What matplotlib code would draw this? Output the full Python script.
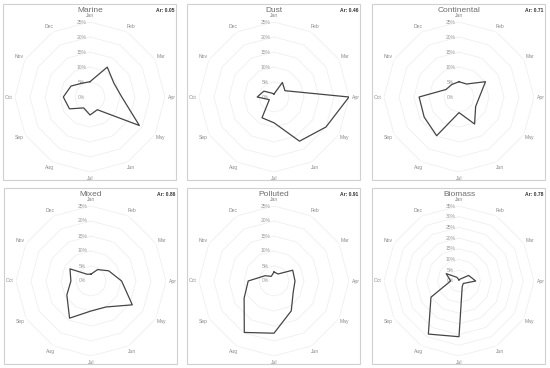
import numpy as np
import matplotlib.pyplot as plt
from matplotlib.patches import Rectangle

plt.rcParams['font.family'] = ['Liberation Sans', 'DejaVu Sans']

months = ['Jan', 'Feb', 'Mar', 'Apr', 'May', 'Jun', 'Jul', 'Aug', 'Sep', 'Oct', 'Nov', 'Dec']
titles = ['Marine', 'Dust', 'Continental', 'Mixed', 'Polluted', 'Biomass']
ar_vals = ['0.05', '0.46', '0.71', '0.86', '0.91', '0.78']

marine = [5.1, 11.5, 9.2, 10.6, 19.0, 4.9, 6.0, 4.2, 7.9, 8.9, 7.3, 5.3]
dust = [1.0, 5.6, 4.2, 25.0, 20.0, 17.0, 8.6, 8.0, 1.8, 5.6, 3.9, 1.5]
continental = [5.1, 5.0, 10.2, 6.8, 6.4, 10.4, 5.2, 14.9, 13.4, 13.3, 5.0, 4.8]
mixed = [2.3, 4.4, 6.8, 10.2, 15.9, 10.0, 10.0, 14.3, 9.3, 6.7, 8.1, 2.6]
polluted = [3.0, 2.7, 7.2, 7.0, 7.4, 11.5, 17.4, 19.8, 11.5, 8.6, 3.5, 1.8]
biomass = [0.5, 1.0, 5.2, 7.8, 2.3, 3.0, 26.0, 28.6, 15.1, 3.9, 6.9, 2.0]

series = [marine, dust, continental, mixed, polluted, biomass]
rmaxes = [25, 25, 25, 25, 25, 35]

W, H = 550, 368
fig = plt.figure(figsize=(W / 100, H / 100), dpi=100)

# panel centres in pixels
centres = [(90, 97), (274, 97), (459, 97), (91, 281), (274, 281), (459, 281)]
R = 75  # pixel radius of outer ring

angles = np.linspace(0, 2 * np.pi, 12, endpoint=False)
closed = np.append(angles, angles[0])

for i in range(6):
    cx, cy = centres[i]
    # panel frame
    fig.patches.append(Rectangle(((cx - 87) / W, 1 - (cy + 83) / H), 173 / W, 176 / H,
                                 transform=fig.transFigure, fill=False,
                                 edgecolor='#d0d0d0', linewidth=0.8))
    ax = fig.add_axes([(cx - R) / W, 1 - (cy + R) / H, 2 * R / W, 2 * R / H], polar=True)
    ax.set_theta_offset(np.pi / 2)
    ax.set_theta_direction(-1)
    rmax = rmaxes[i]
    ax.set_ylim(0, rmax)
    ax.grid(False)
    ax.spines['polar'].set_visible(False)
    ax.set_xticks([])
    ax.set_yticks([])
    ax.patch.set_alpha(0)

    for lv in range(0, rmax + 1, 5):
        ax.plot(closed, [lv] * 13, color='#efefef', lw=0.6, zorder=1)
        ax.annotate(f'{lv}%', xy=(0, lv), xytext=(-6, 0), textcoords='offset points',
                    ha='center', va='center', fontsize=3.6, color='#9a9a9a', zorder=2)

    for a, m in zip(angles, months):
        ax.text(a, rmax * 1.09, m, ha='center', va='center', fontsize=3.6,
                color='#8a8a8a', clip_on=False)

    vals = series[i] + [series[i][0]]
    ax.plot(closed, vals, color='#454545', lw=0.9, zorder=3)

    fig.text(cx / W, 1 - (cy - 87) / H, titles[i], ha='center', va='center',
             fontsize=6, color='#6e6e6e')
    fig.text((cx + 84) / W, 1 - (cy - 86) / H, 'Ar: ' + ar_vals[i], ha='right', va='center',
             fontsize=3.6, color='#333333', fontweight='bold')

fig.savefig('out.png', dpi=100)
